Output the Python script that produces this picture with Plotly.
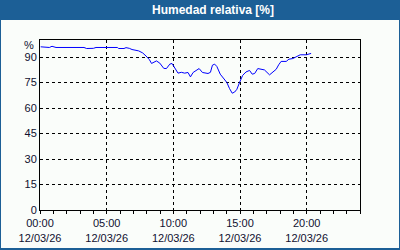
import plotly.graph_objects as go

title_text = "Humedad relativa [%]"
day = "2026-03-12"
times = ["00:03", "00:42", "00:54", "01:12", "03:18", "03:30", "04:00", "04:12", "05:48", "05:54",
         "06:18", "06:27", "06:42", "06:54", "07:24", "07:42", "07:57", "08:12", "08:22", "08:36",
         "08:44", "08:59", "09:17", "09:29", "09:44", "09:54", "10:06", "10:21", "10:36", "10:51",
         "11:06", "11:17", "11:29", "11:44", "11:56", "12:11", "12:36", "12:47", "12:56", "13:06",
         "13:16", "13:31", "13:46", "14:01", "14:13", "14:25", "14:36", "14:46", "14:58", "15:12",
         "15:27", "15:43", "15:55", "16:06", "16:20", "16:35", "16:50", "17:13", "17:28", "17:43",
         "17:54", "18:05", "18:28", "18:40", "18:58", "19:13", "19:31", "19:58", "20:20"]
humidity = [96.0, 95.6, 96.3, 95.6, 95.6, 95.0, 95.1, 95.6, 95.6, 95.0,
            95.0, 95.5, 95.1, 94.4, 93.6, 92.4, 90.6, 88.5, 86.2, 87.2,
            87.7, 86.4, 83.3, 83.2, 85.8, 86.2, 83.8, 80.5, 81.0, 80.5,
            80.9, 78.3, 80.9, 82.4, 83.2, 80.9, 80.3, 81.0, 85.2, 85.8,
            84.4, 79.9, 77.3, 75.0, 71.4, 68.7, 69.4, 71.0, 75.0, 79.2,
            81.2, 82.1, 79.9, 80.3, 83.2, 82.8, 82.4, 79.5, 80.9, 82.8,
            85.4, 87.4, 87.4, 88.7, 89.1, 90.1, 91.3, 91.3, 92.1]
x_tick_times = ["00:00", "05:00", "10:00", "15:00", "20:00"]
x_tick_date = "12/03/26"
y_ticks = [0, 15, 30, 45, 60, 75, 90]
y_unit = "%"

W, H = 400, 250
L, R, T, B = 40, 40, 40, 40
pw, ph = W - L - R, H - T - B

def px(x):
    return (x - L) / pw

def py(y):
    return (H - B - y) / ph

bg = "#fafdfa"
bar = "#1c5f96"
txt = "#101030"
font = "Liberation Sans"

fig = go.Figure()
fig.add_trace(go.Scatter(
    x=[f"{day} {t}" for t in times], y=humidity, mode="lines",
    line=dict(color="#0000ff", width=1), hoverinfo="skip", showlegend=False))

fig.update_layout(
    width=W, height=H, margin=dict(l=L, r=R, t=T, b=B, pad=0, autoexpand=False),
    paper_bgcolor=bg, plot_bgcolor=bg,
    font=dict(family=font, size=11, color=txt),
    xaxis=dict(
        type="date", range=[f"{day} 00:00", "2026-03-13 00:00"],
        tickvals=[f"{day} {t}" for t in x_tick_times],
        ticktext=[f"{t}<br>{x_tick_date}" for t in x_tick_times],
        tickangle=0, automargin=False,
        showgrid=True, gridcolor="black", gridwidth=1, griddash="3px,3px",
        showline=True, linecolor="black", linewidth=1, mirror=True,
        ticks="outside", ticklen=3, tickcolor="black",
        minor=dict(dtick=3600000, ticks="outside", ticklen=3, tickcolor="black", showgrid=False),
        zeroline=False, fixedrange=True,
    ),
    yaxis=dict(
        range=[0, 100], tickvals=y_ticks, ticktext=[str(v) for v in y_ticks],
        automargin=False,
        showgrid=True, gridcolor="black", gridwidth=1, griddash="3px,3px",
        showline=True, linecolor="black", linewidth=1, mirror=True,
        ticks="", zeroline=False, fixedrange=True,
    ),
    shapes=[
        dict(type="rect", xref="paper", yref="paper", x0=px(0), x1=px(400), y0=py(20), y1=py(0),
             fillcolor=bar, line=dict(width=0), layer="below"),
        dict(type="rect", xref="paper", yref="paper", x0=px(0), x1=px(1), y0=py(250), y1=py(0),
             fillcolor=bar, line=dict(width=0)),
        dict(type="rect", xref="paper", yref="paper", x0=px(399), x1=px(400), y0=py(250), y1=py(0),
             fillcolor=bar, line=dict(width=0)),
        dict(type="rect", xref="paper", yref="paper", x0=px(0), x1=px(400), y0=py(250), y1=py(248),
             fillcolor=bar, line=dict(width=0)),
    ],
    annotations=[
        dict(text=f"<b>{title_text}</b>", xref="paper", yref="paper", x=px(213), y=py(10),
             xanchor="center", yanchor="middle", showarrow=False,
             font=dict(family=font, size=12, color="white")),
        dict(text=y_unit, xref="paper", yref="paper", x=px(36), y=py(45),
             xanchor="right", yanchor="middle", showarrow=False,
             font=dict(family=font, size=11, color=txt)),
    ],
)

fig.write_html("out.html")
